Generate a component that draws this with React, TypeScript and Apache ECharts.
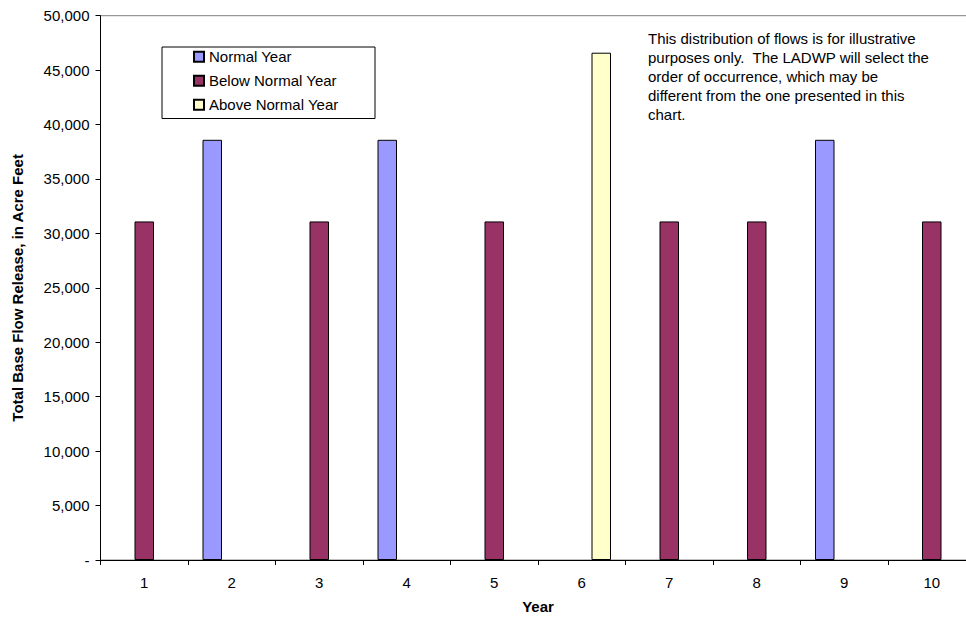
import React, { useEffect, useRef } from "react";
import * as echarts from "echarts";

const years = ["1", "2", "3", "4", "5", "6", "7", "8", "9", "10"];
const normalYear = [null, 38600, null, 38600, null, null, null, null, 38600, null];
const belowNormalYear = [31100, null, 31100, null, 31100, null, 31100, 31100, null, 31100];
const aboveNormalYear = [null, null, null, null, null, 46600, null, null, null, null];
const seriesNames = ["Normal Year", "Below Normal Year", "Above Normal Year"];
const seriesColors = ["#9999FF", "#993366", "#FFFFCC"];
const note =
  "This distribution of flows is for illustrative\npurposes only.  The LADWP will select the\norder of occurrence, which may be\ndifferent from the one presented in this\nchart.";

const FONT = "Arial, 'Liberation Sans', sans-serif";

export default function App() {
  const ref = useRef<HTMLDivElement>(null);
  useEffect(() => {
    if (!ref.current) return;
    const chart = echarts.init(ref.current, undefined, { renderer: "svg" });
    const datasets = [normalYear, belowNormalYear, aboveNormalYear];
    chart.setOption({
      animation: false,
      backgroundColor: "#ffffff",
      textStyle: { fontFamily: FONT },
      grid: {
        left: 100.5,
        top: 15.7,
        right: 0.5,
        bottom: 59,
        show: true,
        borderColor: "#808080",
        borderWidth: 1,
        backgroundColor: "transparent",
      },
      legend: {
        left: 193,
        top: 44.7,
        orient: "vertical",
        itemWidth: 10,
        itemHeight: 10,
        itemGap: 0,
        icon: "rect",
        padding: 0,
        textStyle: { fontSize: 15, color: "#000", lineHeight: 24, fontFamily: FONT },
        data: seriesNames,
      },
      xAxis: {
        type: "category",
        data: years,
        boundaryGap: true,
        name: "Year",
        nameLocation: "middle",
        nameGap: 39,
        nameTextStyle: { fontSize: 15, fontWeight: "bold", color: "#000", fontFamily: FONT },
        axisLine: { lineStyle: { color: "#000", width: 1 } },
        axisTick: { show: true, length: 5, lineStyle: { color: "#000" } },
        axisLabel: { margin: 15, fontSize: 15, color: "#000", fontFamily: FONT },
        splitLine: { show: false },
      },
      yAxis: {
        type: "value",
        min: 0,
        max: 50000,
        interval: 5000,
        name: "Total Base Flow Release, in Acre Feet",
        nameLocation: "middle",
        nameGap: 76,
        nameTextStyle: { fontSize: 15, fontWeight: "bold", color: "#000", fontFamily: FONT },
        axisLine: { show: true, lineStyle: { color: "#000", width: 1 } },
        axisTick: { show: true, length: 5, lineStyle: { color: "#000" } },
        axisLabel: {
          margin: 11,
          fontSize: 15,
          color: "#000",
          fontFamily: FONT,
          formatter: (v: number) => (v === 0 ? "-" : v.toLocaleString("en-US")),
        },
        splitLine: { show: false },
      },
      series: datasets.map((d, i) => ({
        type: "bar",
        name: seriesNames[i],
        data: d,
        barWidth: 19.5,
        barGap: "0%",
        itemStyle: { color: seriesColors[i], borderColor: "#000", borderWidth: 1 },
      })),
      graphic: [
        {
          type: "rect",
          left: 159.5,
          top: 44.5,
          shape: { width: 213, height: 71.5 },
          style: { fill: "none", stroke: "#000", lineWidth: 1 },
          z: 0,
        },
        {
          type: "text",
          left: 648,
          top: 28.5,
          style: {
            text: note,
            font: `15px ${FONT}`,
            lineHeight: 19,
            fill: "#000",
          },
        },
      ],
    });
    return () => chart.dispose();
  }, []);
  return (
    <div
      ref={ref}
      style={{ position: "fixed", left: 0, top: 0, width: 976, height: 619 }}
    />
  );
}
